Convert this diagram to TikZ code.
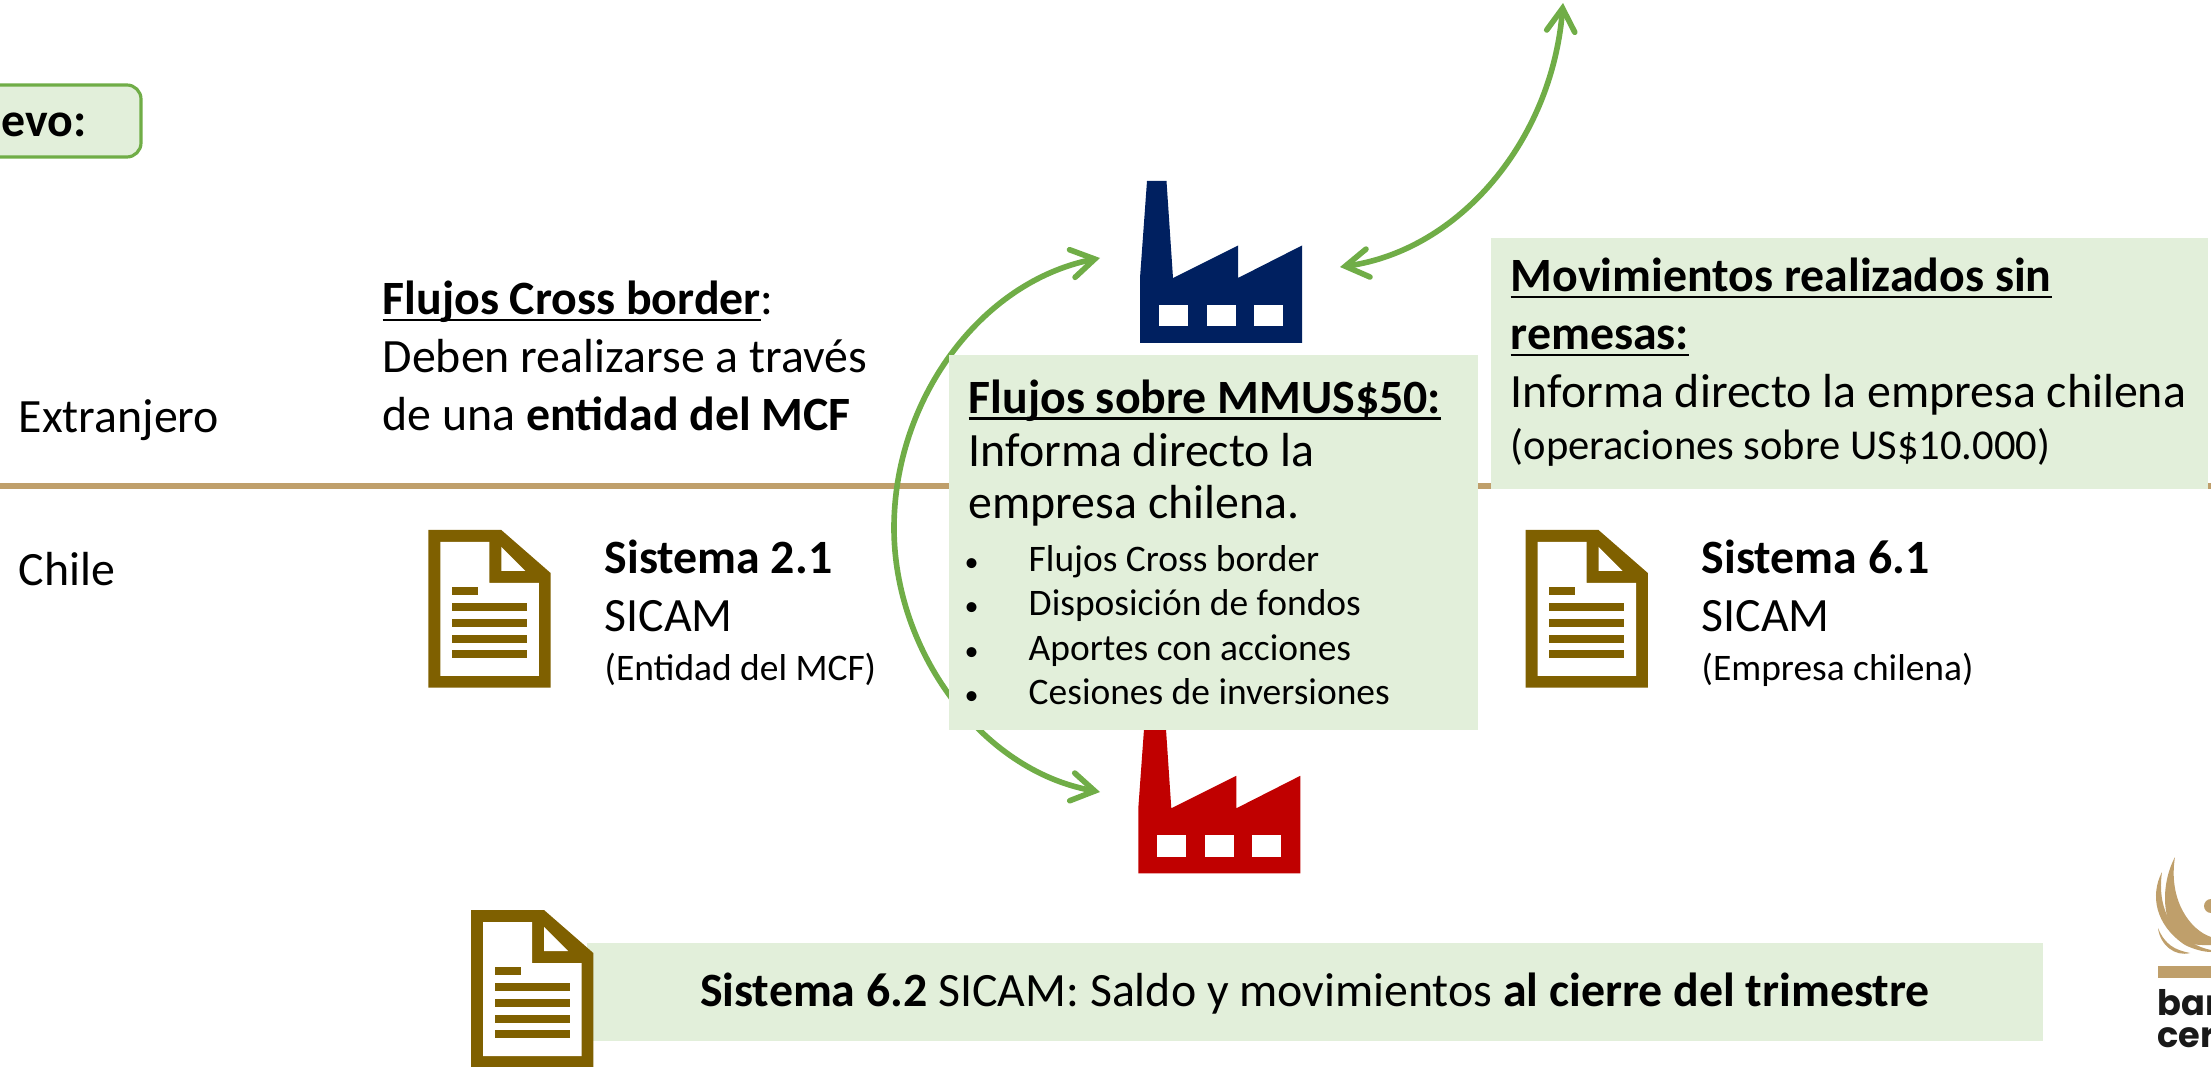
\documentclass[tikz,border=0pt]{standalone}
\usepackage{fontspec}
\setmainfont{Carlito}
\newfontfamily\logofont{Poppins}
\usetikzlibrary{arrows.meta}
\definecolor{panelgreen}{HTML}{E2EFDA}
\definecolor{arrowgreen}{HTML}{70AD47}
\definecolor{docbrown}{HTML}{7F6000}
\definecolor{linetan}{HTML}{BF9F6B}
\definecolor{factoryblue}{HTML}{002060}
\definecolor{factoryred}{HTML}{C00000}
\newcommand{\bigfont}{\fontsize{13.6}{16.5}\selectfont}
\newcommand{\smallfont}{\fontsize{10.65}{12.8}\selectfont}
\newcommand{\itembullet}{\makebox[0.64cm][l]{\fontsize{8}{8}\selectfont\textbullet}}
\newsavebox{\ulinebox}
\newcommand{\ulined}[1]{\sbox{\ulinebox}{#1}\rlap{\rule[-1.8pt]{\wd\ulinebox}{0.7pt}}\usebox{\ulinebox}}
\tikzset{
    panel/.style={fill=panelgreen, inner sep=0pt, anchor=north west},
    label/.style={anchor=base west, inner sep=0pt, align=left, font=\bigfont},
    smalllabel/.style={anchor=base west, inner sep=0pt, align=left, font=\smallfont},
    flow/.style={arrowgreen, line width=1.6pt, {Straight Barb[length=6.5pt, width=8pt, line cap=round]}-{Straight Barb[length=6.5pt, width=8pt, line cap=round]}},
    factory/.pic={
        \fill[pic actions] (7,0) -- (26.5,0) -- (33,97) -- (98,64.5) -- (98,97) -- (162,64.5) -- (162,162) -- (0,162) -- (0,97) -- cycle;
        \foreach \wx in {19,67,114} {
            \fill[white] (\wx,124) rectangle ++(29,21.5);
        }
    },
    docicon/.pic={
        \fill[docbrown] (0,0) -- (73,0) -- (122.3,43) -- (122.3,157.7) -- (0,157.7) -- cycle;
        \fill[white] (12,12) -- (61,12) -- (61,53) -- (110.6,53) -- (110.6,146) -- (12,146) -- cycle;
        \fill[white] (73,17) -- (97,41) -- (73,41) -- cycle;
        \fill[docbrown] (23.7,57) rectangle (49.5,65);
        \foreach \ly in {73,89,105,120} {
            \fill[docbrown] (23.7,\ly) rectangle (98.7,\ly+8);
        }
    }
}
\begin{document}
\begin{tikzpicture}[x=0.01cm, y=-0.01cm]
    \useasboundingbox (0,0) rectangle (2211,1067);

    % frontera
    \draw[linetan, line width=1.5pt] (0,486) -- (2211,486);

    % caja cortada arriba a la izquierda
    \draw[arrowgreen, line width=0.9pt, fill=panelgreen, rounded corners=4pt] (-40,85) rectangle (141,157);
    \node[anchor=base west, inner sep=0pt, font=\bigfont\bfseries] (nuevo) at (1,137) {evo:};

    \node[label] (extranjero) at (18,433) {Extranjero};
    \node[label] (chile) at (18,586) {Chile};

    \node[label] (crossborder) at (382,431) {\textbf{\ulined{Flujos Cross border}}:\\Deben realizarse a través\\de una \textbf{entidad del MCF}};

    % fabricas
    \path (1140,181) pic[fill=factoryblue] {factory};
    \path (1138.3,711.3) pic[fill=factoryred] {factory};
    \coordinate (extranjeraleft) at (1100,258);
    \coordinate (extranjeraright) at (1340,267);
    \coordinate (chilenaleft) at (1100,792);
    \coordinate (arriba) at (1563,3);

    \draw[flow] (extranjeraleft) .. controls (980,282) and (894,400) .. (894,528) .. controls (894,650) and (980,770) .. (chilenaleft);
    \draw[flow] (extranjeraright) .. controls (1460,250) and (1552,140) .. (arriba);

    % cajas
    \node[panel, minimum width=5.29cm, minimum height=3.75cm] (flujosbox) at (948,354) {};
    \node[label, font=\fontsize{13.6}{15}\selectfont] (flujos) at (968,519) {\textbf{\ulined{Flujos sobre MMUS\$50:}}\\Informa directo la\\empresa chilena.};
    \node[smalllabel] (itema) at (964,572) {\itembullet Flujos Cross border};
    \node[smalllabel] (itemb) at (964,616) {\itembullet Disposición de fondos};
    \node[smalllabel] (itemc) at (964,661) {\itembullet Aportes con acciones};
    \node[smalllabel] (itemd) at (964,705) {\itembullet Cesiones de inversiones};

    \node[panel, minimum width=7.17cm, minimum height=2.51cm] (remesasbox) at (1490,237) {};
    \node[label] (remesas) at (1510,408) {\textbf{\ulined{Movimientos realizados sin}}\\\textbf{\ulined{remesas:}}\\Informa directo la empresa chilena};
    \node[smalllabel, font=\fontsize{12.1}{13}\selectfont] (sobre) at (1510,460) {(operaciones sobre US\$10.000)};

    % sistemas
    \path (428.3,530) pic {docicon};
    \node[label] (sistemaa) at (604,632) {\textbf{Sistema 2.1}\\SICAM};
    \node[smalllabel] (sistemaanota) at (604,681) {(Entidad del MCF)};

    \path (1525.5,530) pic {docicon};
    \node[label] (sistemab) at (1701,632) {\textbf{Sistema 6.1}\\SICAM};
    \node[smalllabel] (sistemabnota) at (1701,681) {(Empresa chilena)};

    \node[panel, minimum width=14.55cm, minimum height=0.98cm] (cierrebox) at (586,942) {};
    \node[font=\bigfont, inner sep=0pt, anchor=base] (cierre) at (1315,1006) {\textbf{Sistema 6.2} SICAM: Saldo y movimientos \textbf{al cierre del trimestre}};
    \path (471,910) pic {docicon};

    % logo
    \fill[linetan] (2175,857) .. controls (2160,885) and (2162,925) .. (2180,938) .. controls (2190,946) and (2200,945) .. (2211,945) -- (2211,937) .. controls (2190,930) and (2168,900) .. cycle;
    \fill[linetan] (2162,872) .. controls (2150,895) and (2155,925) .. (2185,945) .. controls (2195,950) and (2205,952) .. (2211,952) -- (2211,950) .. controls (2185,945) and (2155,920) .. cycle;
    \fill[linetan] (2158,928) .. controls (2160,945) and (2175,957) .. (2190,953) .. controls (2175,950) and (2165,945) .. cycle;
    \fill[linetan] (2211,913) arc (90:270:7) -- cycle;
    \fill[linetan] (2158,966) rectangle (2211,978);
    \node[anchor=base west, inner sep=0pt, font=\logofont\fontsize{10}{10}\selectfont\bfseries, text=black!90] (bancologo) at (2157,1015) {bar};
    \node[anchor=base west, inner sep=0pt, font=\logofont\fontsize{10}{10}\selectfont\bfseries, text=black!90] (centrallogo) at (2157,1047) {cer};
\end{tikzpicture}
\end{document}
